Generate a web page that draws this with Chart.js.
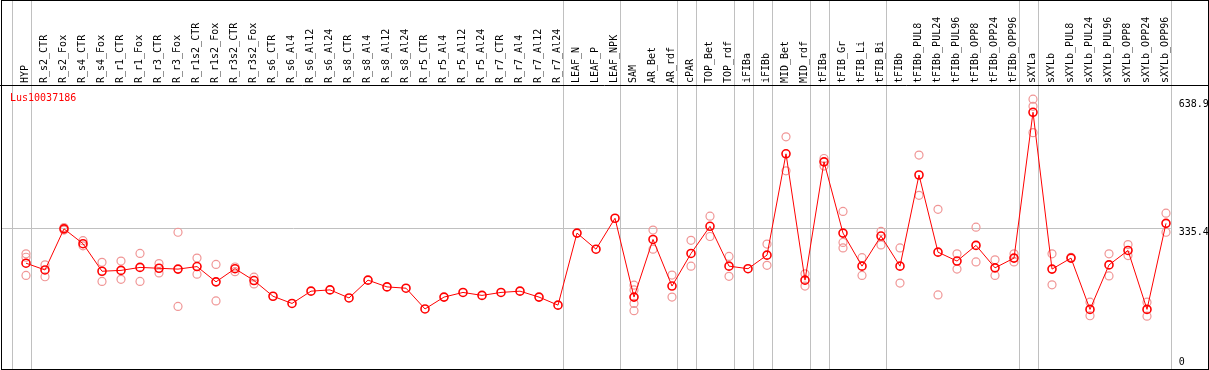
<!DOCTYPE html>
<html>
<head>
<meta charset="utf-8">
<script src="https://cdn.jsdelivr.net/npm/chart.js@4.4.1/dist/chart.umd.min.js"></script>
<style>
  html, body { margin: 0; padding: 0; background: #fff; }
  canvas { display: block; }
</style>
</head>
<body>
<canvas id="exprChart" width="1209" height="370"></canvas>
<script>
// Proben (Kategorien der x-Achse)
const samples = ['HYP', 'R_s2_CTR', 'R_s2_Fox', 'R_s4_CTR', 'R_s4_Fox', 'R_r1_CTR', 'R_r1_Fox', 'R_r3_CTR', 'R_r3_Fox',
  'R_r1s2_CTR', 'R_r1s2_Fox', 'R_r3s2_CTR', 'R_r3s2_Fox', 'R_s6_CTR', 'R_s6_Al4', 'R_s6_Al12', 'R_s6_Al24',
  'R_s8_CTR', 'R_s8_Al4', 'R_s8_Al12', 'R_s8_Al24', 'R_r5_CTR', 'R_r5_Al4', 'R_r5_Al12', 'R_r5_Al24',
  'R_r7_CTR', 'R_r7_Al4', 'R_r7_Al12', 'R_r7_Al24', 'LEAF_N', 'LEAF_P', 'LEAF_NPK', 'SAM', 'AR_Bet', 'AR_rdf',
  'cPAR', 'TOP_Bet', 'TOP_rdf', 'iFIBa', 'iFIBb', 'MID_Bet', 'MID_rdf', 'tFIBa', 'tFIB_Gr', 'tFIB_Li', 'tFIB_Bi',
  'tFIBb', 'tFIBb_PUL8', 'tFIBb_PUL24', 'tFIBb_PUL96', 'tFIBb_OPP8', 'tFIBb_OPP24', 'tFIBb_OPP96',
  'sXYLa', 'sXYLb', 'sXYLb_PUL8', 'sXYLb_PUL24', 'sXYLb_PUL96', 'sXYLb_OPP8', 'sXYLb_OPP24', 'sXYLb_OPP96'];

// Mittelwerte
const meanValues = [252, 236, 333, 298, 233, 235, 242, 240, 238, 244, 208, 239, 211, 174, 157, 186, 189,
  170, 212, 196, 193, 144, 172, 183, 176, 183, 186, 172, 153, 323, 285, 358, 172, 308, 198,
  275, 339, 245, 239, 271, 510, 212, 491, 323, 245, 316, 245, 460, 278, 257, 294, 241, 264,
  608, 238, 264, 143, 248, 282, 143, 346];

// Einzelwerte (Replikate)
const rep1 = [274, 248, 336, 305, 254, 257, 275, 251, 325, 264, 249, 243, 219, null, null, null, null,
  null, null, null, null, null, null, null, null, null, null, null, null, null, null, null, 200, 330, 224,
  306, 363, 268, null, 297, 550, 227, 499, 374, 265, 327, 288, 507, 379, 274, 337, 260, 274,
  639, 274, 266, 160, 274, 296, 160, 370];
const rep2 = [223, 220, 330, 293, 209, 214, 209, 229, 150, 226, 163, 232, 203, null, null, null, null,
  null, null, null, null, null, null, null, null, null, null, null, null, null, null, null, 157, 285, 172,
  245, 315, 221, null, 247, 470, 198, 481, 301, 223, 295, 205, 412, 177, 238, 255, 223, 255,
  560, 201, null, 128, 222, 270, 127, 325];
const rep3 = [266, null, null, null, null, null, null, null, null, null, null, null, null, null, null, null, null,
  null, null, null, null, null, null, null, null, null, null, null, null, null, null, null, 189, null, null,
  null, null, null, null, null, null, null, null, 288, null, null, null, null, null, null, null, null, null,
  622, null, null, null, null, null, null, null];
const rep4 = [null, null, null, null, null, null, null, null, null, null, null, null, null, null, null, null, null,
  null, null, null, null, null, null, null, null, null, null, null, null, null, null, null, 140, null, null,
  null, null, null, null, null, null, null, null, null, null, null, null, null, null, null, null, null, null,
  null, null, null, null, null, null, null, null];

// Achsenbeschriftung rechts und Gruppentrenner (Index der letzten Probe einer Gruppe)
const yTicks = [0, 335.4, 638.9];
const groupEnds = [-1, 0, 28, 31, 34, 35, 37, 38, 39, 41, 42, 45, 52, 53, 60];
const geneName = 'Lus10037186';

const monoFont = "'DejaVu Sans Mono', monospace";
const pink = 'rgb(240,150,150)';

// Rahmen, Trennlinien, Titel und y-Beschriftung
const framePlugin = {
    id: 'frame',
    beforeDatasetsDraw(chart) {
        const ctx = chart.ctx;
        const x = chart.scales.x;
        const y = chart.scales.y;
        const step = x.getPixelForValue(1) - x.getPixelForValue(0);
        const lastSep = x.getPixelForValue(60) + step * 0.25;

        ctx.save();
        ctx.strokeStyle = '#c0c0c0';
        ctx.lineWidth = 1;
        groupEnds.forEach(i => {
            const px = Math.round(x.getPixelForValue(0) + step * (i + 0.25)) + 0.5;
            ctx.beginPath();
            ctx.moveTo(px, 0);
            ctx.lineTo(px, chart.height);
            ctx.stroke();
        });
        const gy = Math.round(y.getPixelForValue(yTicks[1])) + 0.5;
        ctx.beginPath();
        ctx.moveTo(1, gy);
        ctx.lineTo(lastSep, gy);
        ctx.stroke();
        ctx.restore();
    },
    afterDraw(chart) {
        const ctx = chart.ctx;
        const y = chart.scales.y;
        const x = chart.scales.x;
        const step = x.getPixelForValue(1) - x.getPixelForValue(0);
        const lastSep = x.getPixelForValue(60) + step * 0.25;

        ctx.save();
        ctx.strokeStyle = '#000';
        ctx.lineWidth = 1;
        ctx.strokeRect(1.5, 0.5, chart.width - 2, chart.height - 1);
        ctx.beginPath();
        ctx.moveTo(0, chart.chartArea.top - 0.5);
        ctx.lineTo(chart.width, chart.chartArea.top - 0.5);
        ctx.stroke();

        ctx.font = '10px ' + monoFont;
        ctx.fillStyle = 'red';
        ctx.textBaseline = 'middle';
        ctx.textAlign = 'left';
        ctx.fillText(geneName, 10, chart.chartArea.top + 12);

        ctx.fillStyle = '#000';
        yTicks.slice().reverse().forEach(v => {
            const py = Math.min(y.getPixelForValue(v) + 5, chart.height - 8);
            ctx.fillText(String(v), lastSep + 8, py);
        });
        ctx.restore();
    }
};

document.addEventListener('DOMContentLoaded', function () {
    const ctx = document.getElementById('exprChart').getContext('2d');

    const repSet = (data) => ({
        type: 'line',
        data: data,
        showLine: false,
        pointRadius: 4,
        pointBorderWidth: 1.2,
        pointBorderColor: pink,
        pointBackgroundColor: 'rgba(0,0,0,0)',
        order: 2
    });

    new Chart(ctx, {
        type: 'line',
        data: {
            labels: samples,
            datasets: [
                {
                    data: meanValues,
                    borderColor: 'red',
                    borderWidth: 1,
                    pointRadius: 4,
                    pointBorderWidth: 1.6,
                    pointBorderColor: 'red',
                    pointBackgroundColor: 'rgba(0,0,0,0)',
                    tension: 0,
                    order: 1
                },
                repSet(rep1),
                repSet(rep2),
                repSet(rep3),
                repSet(rep4)
            ]
        },
        options: {
            responsive: false,
            animation: false,
            events: [],
            layout: { autoPadding: false, padding: { left: 16.5, top: 0, right: 0, bottom: 0 } },
            plugins: {
                legend: { display: false },
                tooltip: { enabled: false }
            },
            scales: {
                x: {
                    type: 'category',
                    position: 'top',
                    offset: true,
                    grid: { display: false, drawTicks: false },
                    border: { display: false },
                    ticks: {
                        autoSkip: false,
                        maxRotation: 90,
                        minRotation: 90,
                        padding: 3,
                        labelOffset: 11,
                        color: '#000',
                        font: { family: monoFont, size: 10 }
                    },
                    afterFit: s => { s.height = 86; }
                },
                y: {
                    position: 'right',
                    min: 0,
                    max: 670,
                    grid: { display: false },
                    border: { display: false },
                    ticks: { display: false },
                    afterFit: s => { s.width = 33.5; }
                }
            }
        },
        plugins: [framePlugin]
    });
});
</script>
</body>
</html>
